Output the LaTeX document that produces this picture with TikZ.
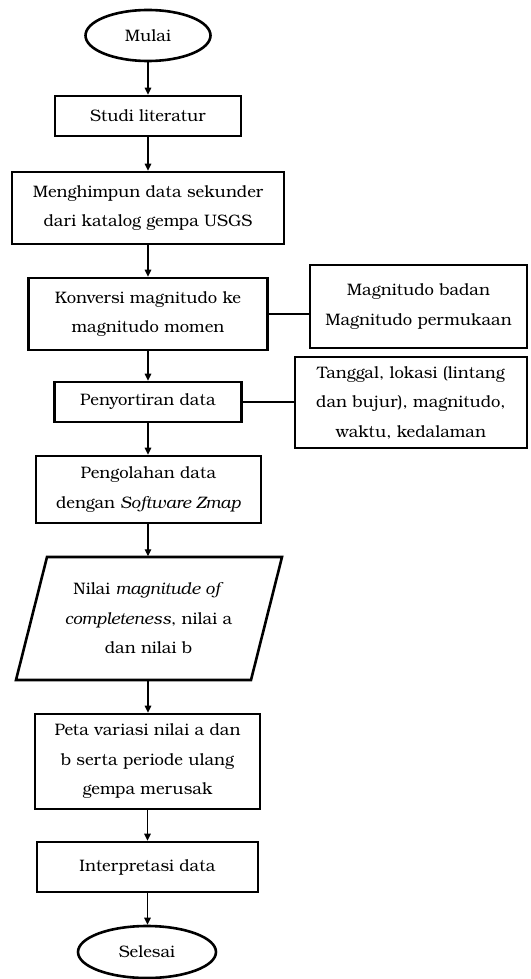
\documentclass[tikz,border=0pt]{standalone}
\usepackage{fontspec}
\setmainfont{TeX Gyre Bonum}
\usetikzlibrary{arrows.meta,shapes.geometric}
\newcommand\boxfont{\fontsize{16.6}{29.5}\selectfont}
\begin{document}
\begin{tikzpicture}[x=1pt,y=-1pt,
  box/.style={draw, line width=2.6pt, rectangle, align=center, inner sep=0pt, font=\boxfont},
  term/.style={draw, line width=2.6pt, ellipse, align=center, inner sep=0pt, font=\boxfont},
  plain/.style={rectangle, align=center, inner sep=0pt, font=\boxfont},
  arr/.style={line width=1.1pt, -{Triangle[length=7pt,width=6.5pt]}},
  link/.style={line width=1.1pt}]
\useasboundingbox (0,0) rectangle (530,979);

\node[term, minimum width=125pt, minimum height=51pt] (mulai) at (148,35.5) {Mulai};
\node[box, minimum width=186pt, minimum height=40pt] (studi) at (148,116) {Studi literatur};
\node[box, minimum width=272pt, minimum height=72pt] (himpun) at (148,208) {Menghimpun data sekunder\\dari katalog gempa USGS};
\node[box, minimum width=239pt, minimum height=72pt] (konversi) at (148,314) {Konversi magnitudo ke\\magnitudo momen};
\node[box, minimum width=217pt, minimum height=83pt] (mag) at (418.5,306.5) {Magnitudo badan\\Magnitudo permukaan};
\node[box, minimum width=187pt, minimum height=40pt] (sortir) at (148,402) {Penyortiran data};
\node[box, minimum width=232pt, minimum height=91pt] (tanggal) at (411,402.5) {Tanggal, lokasi (lintang\\dan bujur), magnitudo,\\waktu, kedalaman};
\node[box, minimum width=225pt, minimum height=67pt] (olah) at (148.5,489.5) {Pengolahan data\\dengan \textit{Software Zmap}};
\node[plain, minimum width=266pt, minimum height=124pt] (para) at (148.5,618.5) {Nilai \textit{magnitude of}\\\textit{completeness}, nilai a\\dan nilai b};
\draw[line width=2.6pt, line join=miter] (47,557) -- (282,557) -- (251,680) -- (16,680) -- cycle;
\node[box, minimum width=225pt, minimum height=95pt] (peta) at (147.5,761.5) {Peta variasi nilai a dan\\b serta periode ulang\\gempa merusak};
\node[box, minimum width=221pt, minimum height=50pt] (interp) at (147.5,867) {Interpretasi data};
\node[term, minimum width=138pt, minimum height=52pt] (selesai) at (147,952) {Selesai};

\draw[arr] (mulai.south) -- (mulai.south |- studi.north);
\draw[arr] (studi.south) -- (studi.south |- himpun.north);
\draw[arr] (himpun.south) -- (himpun.south |- konversi.north);
\draw[arr] (konversi.south) -- (konversi.south |- sortir.north);
\draw[arr] (sortir.south) -- (sortir.south |- olah.north);
\draw[arr] (olah.south -| sortir.south) -- (sortir.south |- para.north);
\draw[arr] (para.south -| sortir.south) -- (sortir.south |- peta.north);
\draw[arr] (peta.south) -- (peta.south |- interp.north);
\draw[arr] (interp.south) -- (interp.south |- selesai.north);
\draw[link] (konversi.east) -- (konversi.east -| mag.west);
\draw[link] (sortir.east) -- (sortir.east -| tanggal.west);
\end{tikzpicture}
\end{document}
